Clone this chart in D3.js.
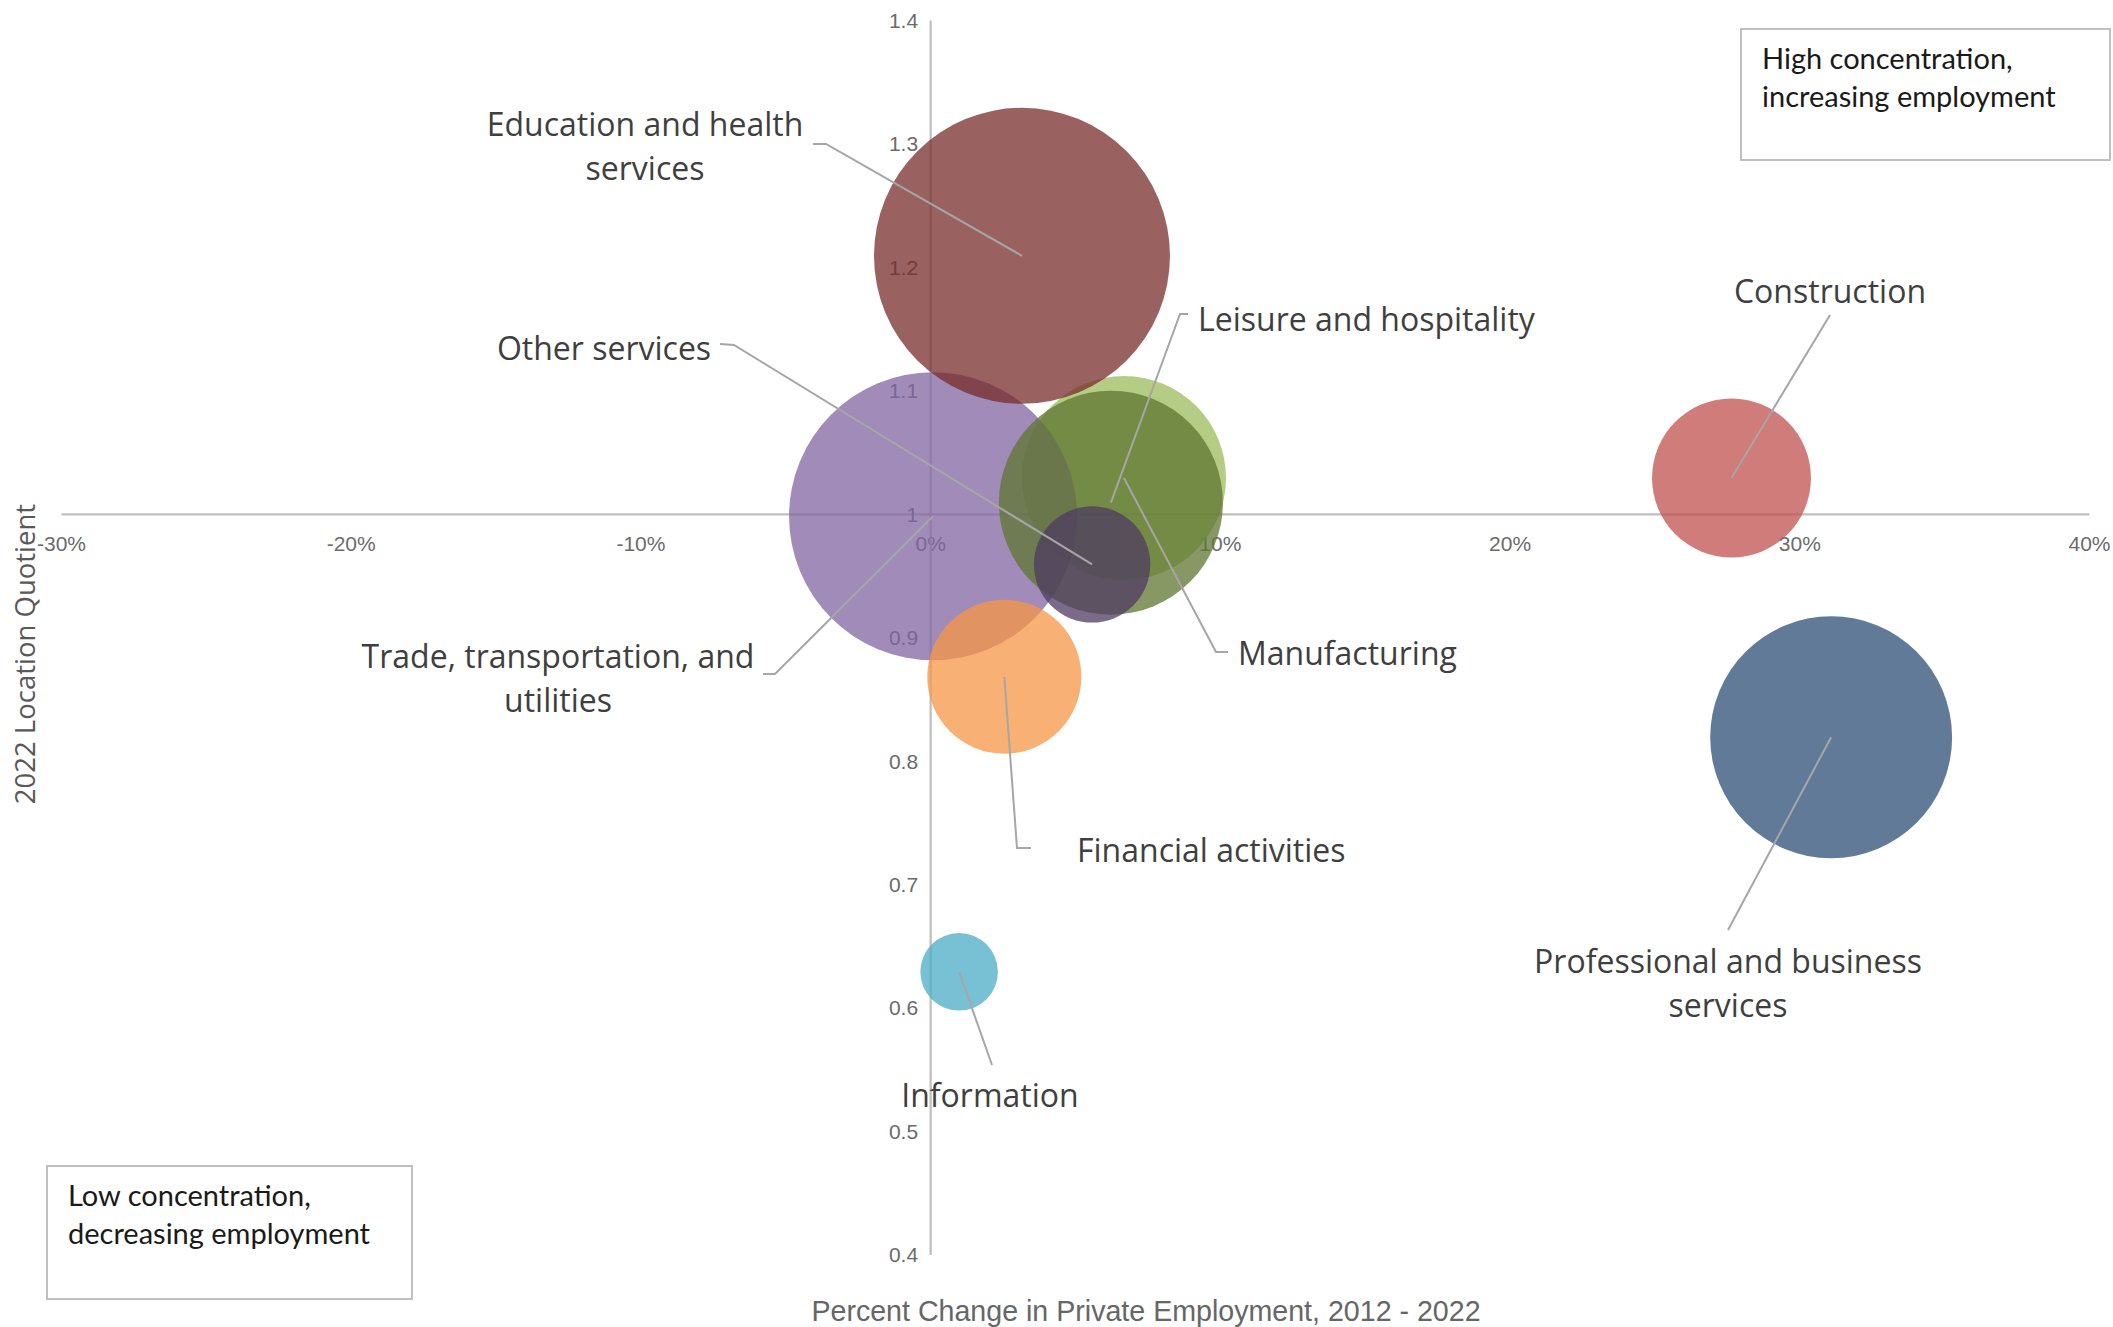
<!DOCTYPE html>
<html>
<head>
<meta charset="utf-8">
<script src="https://cdn.jsdelivr.net/npm/d3@7"></script>
<style>
  html, body { margin: 0; padding: 0; background: #ffffff; }
  svg { display: block; }
</style>
</head>
<body>
<svg id="chart" width="2113" height="1327"></svg>
<script>
// Industry supersectors, in plotting order (later bubbles sit on top)
const categories = [
  "Construction",
  "Manufacturing",
  "Trade, transportation, and utilities",
  "Information",
  "Financial activities",
  "Professional and business services",
  "Education and health services",
  "Leisure and hospitality",
  "Other services"
];
// Percent change in private employment, 2012 - 2022
const pctChange = [0.2766, 0.0669, 0.0010, 0.0100, 0.0256, 0.3110, 0.0317, 0.0624, 0.0559];
// 2022 location quotient
const locationQuotient = [1.029, 1.029, 0.998, 0.629, 0.868, 0.819, 1.209, 1.009, 0.959];
// 2022 employment (thousands), sets bubble area
const employment = [15.1, 24.9, 49.6, 3.6, 14.2, 35.0, 52.4, 30.0, 8.1];
const bubbleColors = ["#C0504D", "#9BBB59", "#8064A2", "#4BACC6", "#F79646", "#2C4D75", "#772C2A", "#5F7530", "#4D3B62"];

const xTicks = [-0.3, -0.2, -0.1, 0, 0.1, 0.2, 0.3, 0.4];
const yTicks = [0.4, 0.5, 0.6, 0.7, 0.8, 0.9, 1.0, 1.1, 1.2, 1.3, 1.4];

const xTitle = "Percent Change in Private Employment, 2012 - 2022";
const yTitle = "2022 Location Quotient";
const quadrantNotes = [
  ["High concentration,", "increasing employment"],
  ["Low concentration,", "decreasing employment"]
];

// Label text broken into lines, plus where each label and its leader line sit
const labelLayout = {
  "Construction": { lines: ["Construction"], x: 1830, y: 290, anchor: "middle", leader: [[1830, 315]] },
  "Manufacturing": { lines: ["Manufacturing"], x: 1238, y: 652, anchor: "start", leader: [[1228, 652], [1216, 652]] },
  "Trade, transportation, and utilities": { lines: ["Trade, transportation, and", "utilities"], x: 558, y: 655, anchor: "middle", leader: [[763, 674], [775, 674]] },
  "Information": { lines: ["Information"], x: 990, y: 1094, anchor: "middle", leader: [[992, 1065]] },
  "Financial activities": { lines: ["Financial activities"], x: 1077, y: 849, anchor: "start", leader: [[1031, 848], [1017, 848]] },
  "Professional and business services": { lines: ["Professional and business", "services"], x: 1728, y: 960, anchor: "middle", leader: [[1728, 930]] },
  "Education and health services": { lines: ["Education and health", "services"], x: 645, y: 123, anchor: "middle", leader: [[813, 144], [826, 144]] },
  "Leisure and hospitality": { lines: ["Leisure and hospitality"], x: 1198, y: 318, anchor: "start", leader: [[1188, 314], [1180, 314]] },
  "Other services": { lines: ["Other services"], x: 604, y: 347, anchor: "middle", leader: [[720, 344], [734, 345]] }
};

const svg = d3.select("#chart");

const x = d3.scaleLinear().domain([-0.3, 0.4]).range([61, 2089]);
const y = d3.scaleLinear().domain([0.4, 1.4]).range([1254.5, 20]);
const r = d3.scaleSqrt().domain([0, d3.max(employment)]).range([0, 148]);

const axisColor = "#BFBFBF";
const tickFont = "'Liberation Sans Narrow', 'Liberation Sans', sans-serif";
const labelFont = "'Open Sans', 'Noto Sans', sans-serif";

// Horizontal axis crossing at LQ = 1
const xAxis = svg.append("g")
  .attr("transform", `translate(0,${y(1)})`)
  .call(d3.axisBottom(x).tickValues(xTicks).tickSize(0).tickPadding(22)
    .tickFormat(d => Math.round(d * 100) + "%"));

// Vertical axis crossing at 0%
const yAxis = svg.append("g")
  .attr("transform", `translate(${x(0)},0)`)
  .call(d3.axisLeft(y).tickValues(yTicks).tickSize(0).tickPadding(12)
    .tickFormat(d => String(+d.toFixed(1))));

[xAxis, yAxis].forEach(g => {
  g.select(".domain").attr("stroke", axisColor).attr("stroke-width", 2.2);
  g.selectAll(".tick text")
    .attr("fill", "#6b6b6b")
    .style("font-family", tickFont)
    .style("font-size", "21px");
});
yAxis.selectAll(".tick text").attr("dy", "0.35em");

// Bubbles
const data = categories.map((c, i) => ({
  name: c, x: pctChange[i], y: locationQuotient[i], size: employment[i], color: bubbleColors[i]
}));

svg.append("g").selectAll("circle")
  .data(data)
  .join("circle")
  .attr("cx", d => x(d.x))
  .attr("cy", d => y(d.y))
  .attr("r", d => r(d.size))
  .attr("fill", d => d.color)
  .attr("fill-opacity", 0.75);

// Leader lines from each label to its bubble centre
const line = d3.line();
svg.append("g").selectAll("path")
  .data(data)
  .join("path")
  .attr("d", d => line(labelLayout[d.name].leader.concat([[x(d.x), y(d.y)]])))
  .attr("fill", "none")
  .attr("stroke", "#A6A6A6")
  .attr("stroke-width", 2);

// Data labels
const labels = svg.append("g").selectAll("text")
  .data(data)
  .join("text")
  .attr("text-anchor", d => labelLayout[d.name].anchor)
  .attr("fill", "#3f3f3f")
  .style("font-family", labelFont)
  .style("font-size", "32px");

labels.each(function (d) {
  const L = labelLayout[d.name];
  d3.select(this).selectAll("tspan")
    .data(L.lines)
    .join("tspan")
    .attr("x", L.x)
    .attr("y", (t, j) => L.y + j * 44)
    .attr("dominant-baseline", "central")
    .text(t => t);
});

// Axis titles
svg.append("text")
  .attr("x", 1146).attr("y", 1311)
  .attr("text-anchor", "middle")
  .attr("dominant-baseline", "central")
  .attr("fill", "#666666")
  .style("font-family", tickFont)
  .style("font-size", "28.6px")
  .text(xTitle);

svg.append("text")
  .attr("transform", "translate(24,654) rotate(-90)")
  .attr("text-anchor", "middle")
  .attr("dominant-baseline", "central")
  .attr("fill", "#595959")
  .style("font-family", labelFont)
  .style("font-size", "27.5px")
  .text(yTitle);

// Quadrant note boxes
const boxes = [
  { x: 1741, y: 29, w: 369, h: 131, text: quadrantNotes[0] },
  { x: 47, y: 1166, w: 365, h: 133, text: quadrantNotes[1] }
];
const boxG = svg.append("g").selectAll("g").data(boxes).join("g");
boxG.append("rect")
  .attr("x", d => d.x).attr("y", d => d.y)
  .attr("width", d => d.w).attr("height", d => d.h)
  .attr("fill", "#ffffff")
  .attr("stroke", "#BFBFBF")
  .attr("stroke-width", 2);
boxG.append("text")
  .attr("fill", "#1a1a1a")
  .style("font-family", "Lato, 'Open Sans', sans-serif")
  .style("font-size", "29px")
  .selectAll("tspan")
  .data(d => d.text.map((t, j) => ({ t, x: d.x + 21, y: d.y + 28.5 + j * 38 })))
  .join("tspan")
  .attr("x", d => d.x)
  .attr("y", d => d.y)
  .attr("dominant-baseline", "central")
  .text(d => d.t);
</script>
</body>
</html>
